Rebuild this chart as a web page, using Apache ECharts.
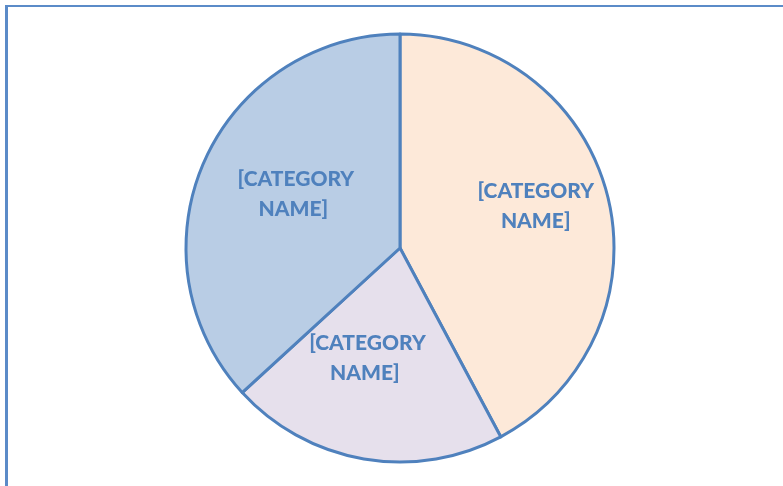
<!DOCTYPE html>
<html>
<head>
<meta charset="utf-8">
<script src="https://cdn.jsdelivr.net/npm/echarts@6/dist/echarts.min.js"></script>
<style>
  html, body { margin: 0; padding: 0; background: #fff; }
  #frame {
    position: absolute;
    left: 5px;
    top: 5px;
    width: 778px;
    height: 481px;
    border-left: 3px solid #5B8BC8;
    border-top: 2px solid #5B8BC8;
  }
  #chart { position: absolute; left: 0; top: 0; width: 783px; height: 486px; }
</style>
</head>
<body>
<div id="frame"></div>
<div id="chart"></div>
<script>
// slices clockwise from 12 o'clock
const categories = ['[CATEGORY\nNAME]', '[CATEGORY\nNAME] ', ' [CATEGORY\nNAME]'];
const values = [42.2, 21.0, 36.8];
const colors = ['#FDE9D9', '#E6E0EC', '#B9CDE5'];
const labelShift = [[29, -15], [-14, 2], [-6, -9]];

let myChart = echarts.init(document.getElementById('chart'));

let option = {
  animation: false,
  series: [{
    type: 'pie',
    center: [400, 248],
    radius: 214,
    startAngle: 90,
    clockwise: true,
    itemStyle: {
      borderColor: '#4F81BD',
      borderWidth: 3
    },
    label: {
      position: 'inside',
      color: '#4F81BD',
      fontFamily: 'Lato',
      fontWeight: 900,
      fontSize: 21,
      lineHeight: 30,
      align: 'center'
    },
    labelLine: { show: false },
    emphasis: { disabled: true },
    data: values.map((v, i) => ({
      value: v,
      name: categories[i],
      itemStyle: { color: colors[i] },
      label: { offset: labelShift[i] }
    }))
  }]
};

myChart.setOption(option);
</script>
</body>
</html>
